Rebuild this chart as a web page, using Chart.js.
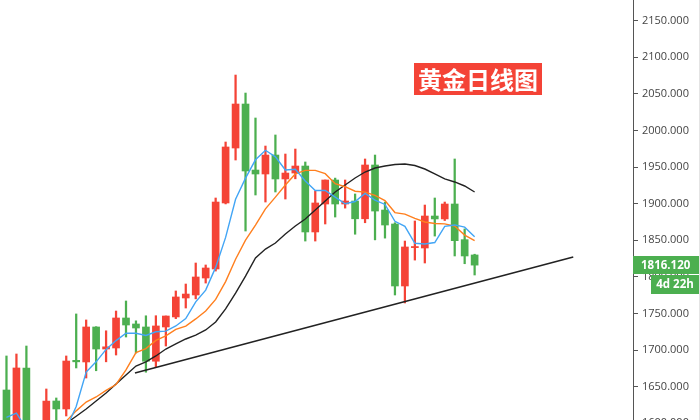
<!DOCTYPE html>
<html>
<head>
<meta charset="utf-8">
<script src="https://cdn.jsdelivr.net/npm/chart.js@4.4.0/dist/chart.umd.min.js"></script>
<style>
  html, body { margin: 0; padding: 0; background: #fff; overflow: hidden; }
  canvas { display: block; }
</style>
</head>
<body>
<canvas id="goldChart" width="700" height="440"></canvas>
<script>
// Weekly candles (red = up, green = down)
const opens  = [1645.5, 1580, 1675.6, 1530, 1498, 1630.5, 1619.6, 1686, 1683.8, 1731.6,
                1701.5, 1702.9, 1743.9, 1735.7, 1731.6, 1684.8, 1731.6, 1745.3, 1771.2, 1775.3,
                1798.5, 1810.8, 1901, 1976.1, 2036.2, 1946, 1940.6, 1966.5, 1933.8, 1941.9,
                1951.5, 1861.4, 1899.6, 1932.4, 1899.6, 1903.7, 1879.4, 1952.9, 1891.4, 1872.3,
                1787.6, 1840, 1839.5, 1883.2, 1879.2, 1899.6, 1850.9, 1830];
const highs  = [1692, 1694.7, 1705.6, 1575, 1646.9, 1634.6, 1692, 1749.4, 1741.2, 1732,
                1726.4, 1753.4, 1767.1, 1740, 1746.9, 1747, 1746.6, 1780.8, 1790.3, 1819,
                1816.3, 1907.8, 1984.3, 2075.8, 2051.2, 2017.1, 1978.8, 1993.9, 1967.9, 1974.7,
                1957, 1917.4, 1932.4, 1935, 1932.4, 1913.3, 1961.1, 1966.5, 1902.3, 1874,
                1849, 1876.4, 1898.2, 1907.8, 1902.3, 1961.1, 1865.5, 1831];
const lows   = [1560, 1570, 1455, 1451, 1480, 1600, 1610, 1675.6, 1661.9, 1671.8,
                1684, 1693.3, 1717.9, 1696, 1669.8, 1676.6, 1705.6, 1743, 1757.5, 1770,
                1791.6, 1808, 1899.7, 1959.7, 1862.7, 1911.9, 1902.3, 1916, 1906.4, 1934,
                1849, 1849, 1872.3, 1881.8, 1894, 1858.3, 1874, 1850.6, 1853, 1775.3,
                1764.4, 1823, 1819, 1855.8, 1877, 1828.6, 1818, 1802.6];
const closes = [1580, 1675.6, 1530, 1498, 1630.5, 1619.6, 1685.1, 1684, 1731.6, 1701.5,
                1704.5, 1743.9, 1734.3, 1730.2, 1684.8, 1733, 1746.6, 1772.6, 1776.6, 1799.9,
                1812.2, 1902.3, 1977.5, 2036.2, 1944.7, 1940.6, 1966.5, 1933.8, 1941.9, 1951.5,
                1861.4, 1901, 1932.4, 1899.6, 1903.7, 1879.4, 1952.9, 1890, 1870.9, 1787.6,
                1840.9, 1841.5, 1883.2, 1879.2, 1899.6, 1849.5, 1828.6, 1816.12];

// moving averages as drawn in the picture
const ma5  = [1608, 1614, 1592, 1570, 1572, 1580, 1593, 1623, 1670, 1684,
              1701, 1713, 1723, 1723, 1720, 1725, 1726, 1733, 1743, 1766,
              1782, 1813, 1854, 1906, 1935, 1960, 1973, 1964, 1946, 1947,
              1931, 1918, 1918, 1909, 1900, 1903, 1914, 1905, 1899, 1876,
              1869, 1846, 1845, 1847, 1869, 1871, 1868, 1855];
const ma10 = [1590, 1592, 1588, 1580, 1578, 1590, 1603, 1617, 1629, 1636,
              1645, 1653, 1673, 1696.5, 1702, 1713.3, 1719.4, 1728.3, 1732.8, 1742.6,
              1753.4, 1769.3, 1793.6, 1824.2, 1850.2, 1870.9, 1892.9, 1909, 1925.6, 1940.7,
              1945.6, 1945.5, 1941, 1927.3, 1923.2, 1917.1, 1915.8, 1911.4, 1904.3, 1887.9,
              1885.8, 1879.9, 1875, 1872.9, 1872.5, 1869.5, 1857.1, 1849.7];
const maLong = [1560, 1566, 1572, 1578, 1585, 1592, 1600, 1609.6, 1619.6, 1630.5,
                1641.5, 1653.8, 1666, 1678.3, 1683.8, 1692, 1701.5, 1708.4, 1715.2, 1720.6,
                1727.5, 1738.4, 1756.2, 1778, 1801.2, 1825.8, 1838, 1846.3, 1858.6, 1869.6,
                1879.1, 1891.4, 1903.7, 1916, 1925.6, 1935.1, 1943.3, 1948.8, 1951.5, 1953.6,
                1954.3, 1952.2, 1947.4, 1940.6, 1933.8, 1929.7, 1924.2, 1916];

// support trend line (candle index, price)
const trendX = [12.9, 56.9];
const trendY = [1668.8, 1827.2];

// price axis ticks
const tickValues = [1600, 1650, 1700, 1750, 1800, 1850, 1900, 1950, 2000, 2050, 2100, 2150];

const titleText = '黄金日线图';
const countdownText = '4d 22h';

const RED = '#f44336';
const GREEN = '#4caf50';

const idx = closes.map((_, i) => i);
const candleColors = idx.map(i => closes[i] >= opens[i] ? RED : GREEN);
const lastPrice = closes[closes.length - 1];

const overlay = {
    id: 'overlay',
    afterDraw(chart) {
        const ctx = chart.ctx;
        const y = Math.round(chart.scales.y.getPixelForValue(lastPrice));
        ctx.save();
        ctx.fillStyle = '#e4e4e4';
        ctx.fillRect(699, 0, 1, 440);

        // last price tag + countdown
        ctx.fillStyle = GREEN;
        ctx.fillRect(633, y - 9, 66, 18);
        ctx.fillRect(651, y + 10, 48, 19);
        ctx.fillStyle = '#fff';
        ctx.font = 'bold 11.5px "Open Sans", sans-serif';
        ctx.textBaseline = 'middle';
        ctx.textAlign = 'left';
        ctx.fillText(lastPrice.toFixed(3), 641, y + 0.5);
        ctx.textAlign = 'center';
        ctx.fillText(countdownText, 675, y + 20);

        // title badge
        ctx.fillStyle = RED;
        ctx.fillRect(414, 63, 128, 32);
        ctx.fillStyle = '#fff';
        ctx.font = 'bold 24px "Noto Sans CJK SC", sans-serif';
        ctx.textAlign = 'center';
        ctx.fillText(titleText, 478, 80);
        ctx.restore();
    }
};

const lineSet = (label, values, color) => ({
    type: 'line',
    label: label,
    data: idx.map(i => ({ x: i, y: values[i] })),
    borderColor: color,
    borderWidth: 1.4,
    pointRadius: 0,
    tension: 0,
    order: 0
});

new Chart(document.getElementById('goldChart'), {
    type: 'bar',
    data: {
        datasets: [
            lineSet('MA5', ma5, '#42a5f5'),
            lineSet('MA10', ma10, '#ff7f1e'),
            lineSet('MA', maLong, '#222'),
            {
                type: 'line',
                label: 'trend',
                data: trendX.map((x, k) => ({ x: x, y: trendY[k] })),
                borderColor: '#222',
                borderWidth: 1.6,
                pointRadius: 0,
                order: 0
            },
            {
                label: 'body',
                data: idx.map(i => ({ x: i, y: [opens[i], closes[i]] })),
                backgroundColor: candleColors,
                barThickness: 7,
                minBarLength: 1,
                grouped: false,
                order: 1
            },
            {
                label: 'wick',
                data: idx.map(i => ({ x: i, y: [lows[i], highs[i]] })),
                backgroundColor: candleColors,
                barThickness: 1.6,
                grouped: false,
                order: 2
            }
        ]
    },
    options: {
        responsive: false,
        animation: false,
        devicePixelRatio: 1,
        layout: { padding: 0 },
        plugins: {
            legend: { display: false },
            tooltip: { enabled: false }
        },
        scales: {
            x: {
                type: 'linear',
                min: -0.65,
                max: 62.9,
                offset: false,
                display: false
            },
            y: {
                position: 'right',
                min: 1577.2,
                max: 2178.3,
                afterBuildTicks: s => { s.ticks = tickValues.map(v => ({ value: v })); },
                afterFit: s => { s.width = 67; s.paddingTop = 0; s.paddingBottom = 0; },
                border: { color: '#555', width: 1 },
                grid: { drawOnChartArea: false, tickLength: 5, tickColor: '#555' },
                ticks: {
                    padding: 4,
                    color: '#444',
                    font: { family: '"Open Sans", sans-serif', size: 11 },
                    callback: v => v.toFixed(3)
                }
            }
        }
    },
    plugins: [overlay]
});
</script>
</body>
</html>
